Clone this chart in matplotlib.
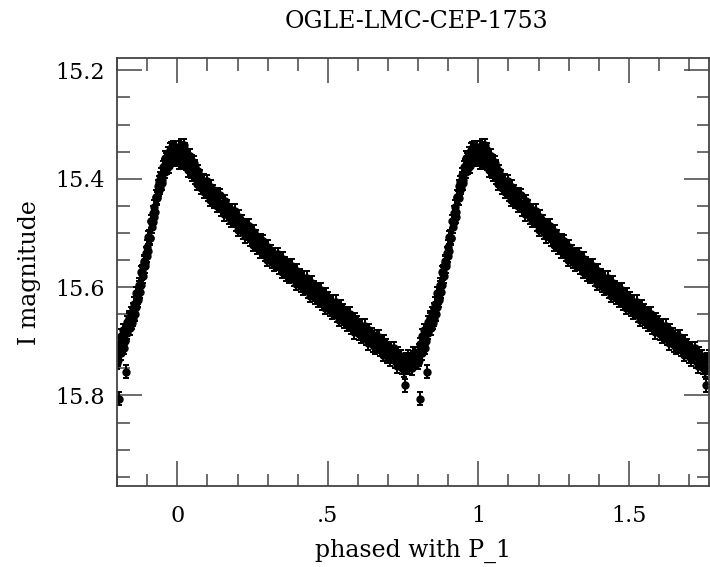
from matplotlib import pyplot as plt
from matplotlib.ticker import MultipleLocator, FixedLocator

#GENERAL_PARAMETERS----------------------------------------------------------------------------------------------------#
graphTitle = "OGLE-LMC-CEP-1753"
x_name = "phased with P_1"
y_name = "I magnitude"

# Limits of the graph #
x_limits = (-0.2, 1.767)
y_limits = (15.967, 15.178)

# Tick labels #
x_ticks = [0, 0.5, 1, 1.5]
x_tick_labels = ["0", ".5", "1", "1.5"]
y_ticks = [15.2, 15.4, 15.6, 15.8]
y_tick_labels = ["15.2", "15.4", "15.6", "15.8"]

# Photometric error of one measurement #
mag_err = 0.012

# Season 1: phase of each measurement (one cycle) #
phase = [
    0.002, 0.006, 0.009, 0.013, 0.017, 0.020, 0.024, 0.027, 0.031, 0.034,
    0.038, 0.041, 0.045, 0.048, 0.052, 0.055, 0.059, 0.062, 0.066, 0.069,
    0.073, 0.076, 0.080, 0.083, 0.087, 0.090, 0.094, 0.097,
    0.101, 0.105, 0.108, 0.112, 0.116, 0.119, 0.123, 0.127, 0.131, 0.134,
    0.138, 0.142, 0.146, 0.150, 0.154, 0.158, 0.162, 0.166, 0.170, 0.174,
    0.178, 0.182, 0.186, 0.190, 0.194, 0.198, 0.202, 0.206, 0.210, 0.214,
    0.218, 0.222, 0.226, 0.230, 0.234, 0.238, 0.242, 0.246, 0.250, 0.254,
    0.258, 0.262, 0.266, 0.270, 0.274, 0.278, 0.282, 0.286, 0.290, 0.294,
    0.298,
    0.302, 0.306, 0.310, 0.314, 0.318, 0.322, 0.326, 0.330, 0.334, 0.338,
    0.342, 0.346, 0.350, 0.354, 0.358, 0.362, 0.366, 0.370, 0.374, 0.378,
    0.382, 0.386, 0.390, 0.394, 0.398, 0.402, 0.406, 0.410, 0.414, 0.418,
    0.422, 0.426, 0.430, 0.434, 0.438, 0.442, 0.446, 0.450, 0.454, 0.458,
    0.462, 0.466, 0.470, 0.474, 0.478, 0.482, 0.486, 0.490, 0.494, 0.498,
    0.502, 0.506, 0.510, 0.514, 0.518, 0.522, 0.526, 0.530, 0.534, 0.538,
    0.542, 0.546, 0.550, 0.554, 0.558, 0.562, 0.566, 0.570, 0.574, 0.578,
    0.582, 0.586, 0.590, 0.594, 0.598,
    0.602, 0.606, 0.610, 0.614, 0.618, 0.622, 0.626, 0.630, 0.634, 0.638,
    0.642, 0.646, 0.650, 0.654, 0.658, 0.662, 0.666, 0.670, 0.674, 0.678,
    0.682, 0.686, 0.690, 0.694, 0.698, 0.702, 0.706, 0.710, 0.714, 0.718,
    0.722, 0.726, 0.730, 0.734, 0.738, 0.742, 0.746, 0.750, 0.754, 0.757,
    0.758, 0.762,
    0.766, 0.770, 0.774, 0.778, 0.782, 0.786, 0.790, 0.794, 0.798, 0.802,
    0.806, 0.807, 0.810, 0.814, 0.818, 0.822, 0.826, 0.829, 0.832, 0.836,
    0.840, 0.844, 0.848, 0.852, 0.856, 0.860,
    0.864, 0.868, 0.872, 0.876, 0.880, 0.884, 0.888, 0.892, 0.896, 0.900,
    0.904, 0.908, 0.912, 0.916, 0.920, 0.924, 0.928, 0.932, 0.936, 0.940,
    0.944, 0.948, 0.952, 0.956, 0.960, 0.964, 0.968, 0.972, 0.976, 0.980,
    0.984, 0.988, 0.992, 0.996,
]

# Season 1: I-band magnitude of each measurement #
mag = [
    15.364, 15.342, 15.356, 15.339, 15.363, 15.350, 15.371, 15.347, 15.363, 15.357,
    15.378, 15.368, 15.387, 15.368, 15.386, 15.371, 15.398, 15.387, 15.409, 15.386,
    15.402, 15.396, 15.417, 15.406, 15.424, 15.404, 15.421, 15.405,
    15.430, 15.418, 15.439, 15.415, 15.430, 15.423, 15.443, 15.433, 15.450, 15.430,
    15.446, 15.431, 15.456, 15.444, 15.466, 15.442, 15.457, 15.451, 15.471, 15.460,
    15.478, 15.458, 15.474, 15.459, 15.484, 15.472, 15.494, 15.470, 15.485, 15.479,
    15.499, 15.488, 15.506, 15.486, 15.502, 15.487, 15.512, 15.500, 15.522, 15.498,
    15.513, 15.507, 15.527, 15.516, 15.534, 15.514, 15.530, 15.515, 15.540, 15.528,
    15.550,
    15.526, 15.541, 15.534, 15.553, 15.542, 15.559, 15.539, 15.555, 15.539, 15.563,
    15.551, 15.572, 15.548, 15.563, 15.556, 15.576, 15.564, 15.581, 15.561, 15.577,
    15.561, 15.586, 15.573, 15.594, 15.570, 15.585, 15.578, 15.598, 15.586, 15.603,
    15.583, 15.599, 15.583, 15.608, 15.595, 15.616, 15.592, 15.607, 15.600, 15.620,
    15.609, 15.625, 15.605, 15.621, 15.605, 15.630, 15.618, 15.638, 15.614, 15.629,
    15.622, 15.642, 15.631, 15.647, 15.627, 15.643, 15.627, 15.652, 15.640, 15.660,
    15.636, 15.651, 15.644, 15.664, 15.653, 15.670, 15.649, 15.665, 15.649, 15.674,
    15.662, 15.683, 15.659, 15.673, 15.666,
    15.686, 15.675, 15.691, 15.671, 15.687, 15.671, 15.695, 15.683, 15.704, 15.680,
    15.694, 15.687, 15.707, 15.696, 15.712, 15.692, 15.708, 15.692, 15.716, 15.704,
    15.725, 15.701, 15.715, 15.708, 15.728, 15.717, 15.733, 15.713, 15.729, 15.713,
    15.737, 15.725, 15.746, 15.722, 15.736, 15.729, 15.749, 15.738, 15.754, 15.781,
    15.734, 15.749,
    15.728, 15.749, 15.733, 15.750, 15.722, 15.733, 15.722, 15.738, 15.723, 15.734,
    15.706, 15.806, 15.714, 15.690, 15.707, 15.687, 15.700, 15.756, 15.665, 15.672,
    15.657, 15.669, 15.650, 15.659, 15.631, 15.639,
    15.611, 15.624, 15.600, 15.609, 15.573, 15.575, 15.555, 15.562, 15.538, 15.542,
    15.508, 15.509, 15.479, 15.489, 15.463, 15.470, 15.433, 15.434, 15.414, 15.420,
    15.400, 15.408, 15.379, 15.386, 15.361, 15.380, 15.362, 15.377, 15.347, 15.356,
    15.346, 15.363, 15.350, 15.364,
]

# Season 2: phase of each measurement (fills maximum and rising branch) #
phase_2 = [
    0.004, 0.011, 0.015, 0.022, 0.029, 0.036, 0.043, 0.050, 0.057, 0.064,
    0.800, 0.804, 0.812, 0.816, 0.820, 0.824, 0.834, 0.838, 0.842, 0.846,
    0.850, 0.854, 0.858,
    0.862, 0.866, 0.870, 0.874, 0.878, 0.882, 0.886, 0.890, 0.894, 0.898,
    0.902, 0.906, 0.910, 0.914, 0.918, 0.922, 0.926, 0.930, 0.934, 0.938,
    0.942, 0.946, 0.950, 0.954, 0.958, 0.962, 0.966, 0.970, 0.974, 0.978,
    0.982, 0.986, 0.990, 0.994, 0.998,
]

# Season 2: I-band magnitude of each measurement #
mag_2 = [
    15.370, 15.344, 15.368, 15.338, 15.372, 15.384, 15.358, 15.392, 15.378, 15.402,
    15.740, 15.718, 15.722, 15.700, 15.680, 15.712, 15.684, 15.660, 15.676, 15.648,
    15.666, 15.642, 15.650,
    15.636, 15.612, 15.620, 15.596, 15.597, 15.571, 15.580, 15.552, 15.555, 15.526,
    15.533, 15.507, 15.510, 15.479, 15.480, 15.452, 15.461, 15.433, 15.436, 15.407,
    15.417, 15.393, 15.402, 15.376, 15.387, 15.364, 15.380, 15.353, 15.368, 15.344,
    15.361, 15.342, 15.362, 15.342, 15.356,
]

#PLOTTING--------------------------------------------------------------------------------------------------------------#
plt.rcParams['font.family'] = ['DejaVu Serif']

fig = plt.figure(figsize=(7.10, 5.67), dpi=100)
ax = fig.add_axes([0.165, 0.143, 0.834, 0.754])

# Repeat the cycle so it covers the whole phase window #
for season_phase, season_mag in ((phase, mag), (phase_2, mag_2)):
    for shift in (-1, 0, 1):
        xs = []
        ys = []
        for p, m in zip(season_phase, season_mag):
            if x_limits[0] <= p + shift <= x_limits[1]:
                xs.append(p + shift)
                ys.append(m)
        ax.errorbar(xs, ys, yerr=mag_err, fmt='o', color='black', ms=5.0,
                    elinewidth=1.4, capsize=2.5, capthick=1.4)

ax.set_xlim(*x_limits)
ax.set_ylim(*y_limits)

# Ticks #
ax.xaxis.set_major_locator(FixedLocator(x_ticks))
ax.set_xticklabels(x_tick_labels)
ax.xaxis.set_minor_locator(MultipleLocator(0.1))
ax.yaxis.set_major_locator(FixedLocator(y_ticks))
ax.set_yticklabels(y_tick_labels)
ax.yaxis.set_minor_locator(MultipleLocator(0.05))
ax.tick_params(which='both', direction='in', top=True, right=True, color='#444444', width=1.1)
ax.tick_params(which='major', length=18)
ax.tick_params(which='minor', length=9)
ax.tick_params(axis='x', which='major', pad=14, labelsize=16)
ax.tick_params(axis='y', which='major', pad=9, labelsize=16)

for spine in ax.spines.values():
    spine.set_color('#444444')
    spine.set_linewidth(1.3)

# Add names and tags #
ax.set_xlabel(x_name, fontsize=17, labelpad=8)
ax.set_ylabel(y_name, fontsize=17, labelpad=10)
fig.text(0.587, 0.962, graphTitle, fontsize=17, ha='center', va='center')

fig.savefig("out.png", dpi=100)
